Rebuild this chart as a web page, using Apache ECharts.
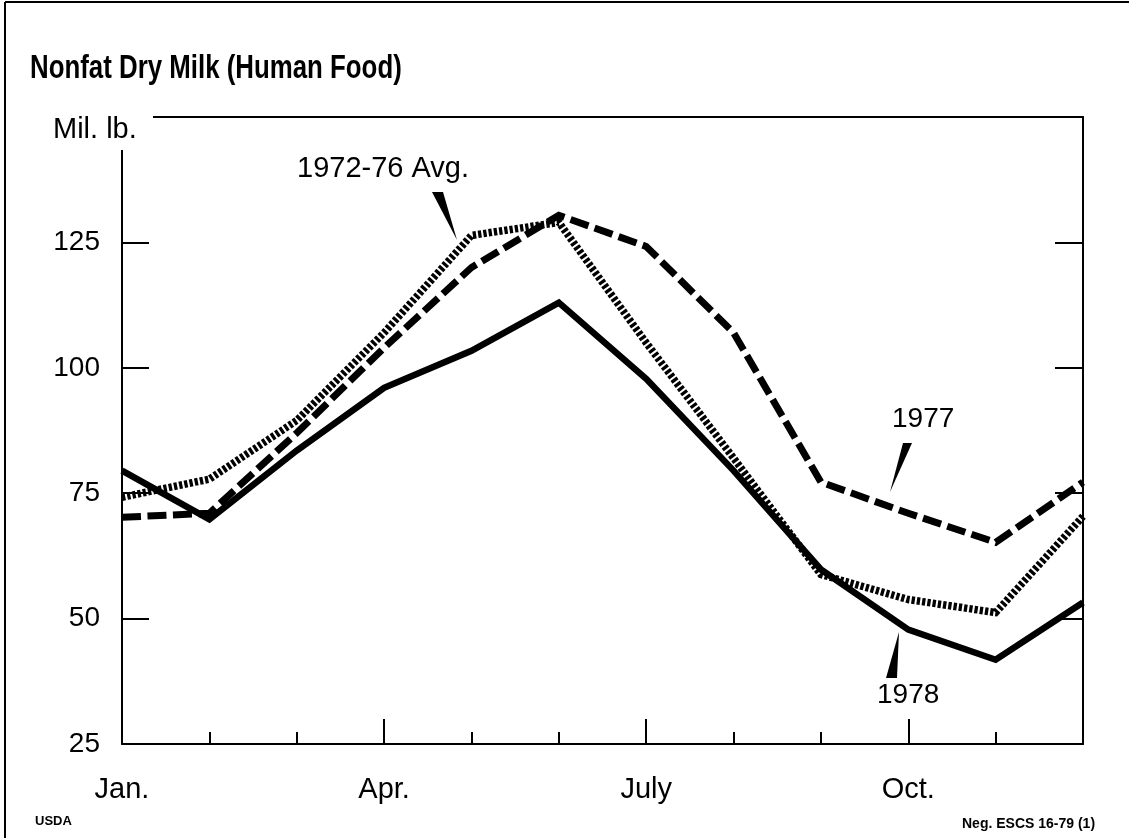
<!DOCTYPE html>
<html>
<head>
<meta charset="utf-8">
<script src="https://cdn.jsdelivr.net/npm/echarts@6/dist/echarts.min.js"></script>
<style>
  html, body { margin: 0; padding: 0; background: #fff; }
  #chart { width: 1129px; height: 838px; }
</style>
</head>
<body>
<div id="chart"></div>
<script>
// ---- data ----
const months = ['Jan', 'Feb', 'Mar', 'Apr', 'May', 'Jun', 'Jul', 'Aug', 'Sep', 'Oct', 'Nov', 'Dec'];
const xTickLabels = ['Jan.', '', '', 'Apr.', '', '', 'July', '', '', 'Oct.', '', ''];
const yTicks = [25, 50, 75, 100, 125, 150];
const y1978 = [79.5, 69.8, 83.5, 96, 103.4, 113, 97.8, 79.5, 59.8, 47.8, 41.8, 53.2];
const y1977 = [70.2, 71, 87, 104, 120, 130.4, 124.2, 107, 77.2, 71, 65.2, 77.2];
const yAvg  = [74.2, 77.8, 89.5, 107, 126.4, 129, 105, 82, 58.8, 53.8, 51.2, 70.4];

const FONT = "'Liberation Sans', Arial, Helvetica, sans-serif";

const chart = echarts.init(document.getElementById('chart'), null, { renderer: 'canvas' });

const option = {
  backgroundColor: '#ffffff',
  animation: false,
  grid: { left: 122, right: 46, top: 117, bottom: 94, containLabel: false },
  xAxis: [
    {
      type: 'category', data: months, boundaryGap: false, position: 'bottom',
      axisLine: { show: true, lineStyle: { color: '#000', width: 2 } },
      axisTick: { show: true, inside: true, length: 12, interval: 0, lineStyle: { color: '#000', width: 2 } },
      axisLabel: {
        show: true, interval: 0, margin: 31, color: '#000', fontFamily: FONT, fontSize: 29,
        formatter: (v, i) => xTickLabels[i]
      },
      splitLine: { show: false }
    },
    {
      type: 'category', data: months, boundaryGap: false, position: 'bottom',
      axisLine: { show: false },
      axisTick: { show: true, inside: true, length: 25, interval: (i) => i % 3 === 0, lineStyle: { color: '#000', width: 2 } },
      axisLabel: { show: false },
      splitLine: { show: false }
    },
    {
      type: 'category', data: months, boundaryGap: false, position: 'top',
      axisLine: { show: true, lineStyle: { color: '#000', width: 2 } },
      axisTick: { show: false },
      axisLabel: { show: false },
      splitLine: { show: false }
    }
  ],
  yAxis: [
    {
      type: 'value', min: yTicks[0], max: yTicks[yTicks.length - 1], interval: 25, position: 'left',
      axisLine: { show: true, lineStyle: { color: '#000', width: 2 } },
      axisTick: { show: true, inside: true, length: 27, lineStyle: { color: '#000', width: 2 } },
      axisLabel: {
        show: true, margin: 22, color: '#000', fontFamily: FONT, fontSize: 28,
        formatter: (v) => (v === 150 ? '' : String(v))
      },
      splitLine: { show: false }
    },
    {
      type: 'value', min: yTicks[0], max: yTicks[yTicks.length - 1], interval: 25, position: 'right',
      axisLine: { show: true, lineStyle: { color: '#000', width: 2 } },
      axisTick: { show: true, inside: true, length: 28, lineStyle: { color: '#000', width: 2 } },
      axisLabel: { show: false },
      splitLine: { show: false }
    }
  ],
  series: [
    {
      name: '1978', type: 'line', data: y1978, xAxisIndex: 0, yAxisIndex: 0,
      symbol: 'none', z: 3,
      lineStyle: { color: '#000', width: 6.5, type: 'solid', join: 'miter' }
    },
    {
      name: '1977', type: 'line', data: y1977, xAxisIndex: 0, yAxisIndex: 0,
      symbol: 'none', z: 4,
      lineStyle: { color: '#000', width: 7, type: [19, 6.5], cap: 'butt', join: 'miter' }
    },
    {
      name: '1972-76 Avg.', type: 'line', data: yAvg, xAxisIndex: 0, yAxisIndex: 0,
      symbol: 'none', z: 5,
      lineStyle: { color: '#000', width: 7.5, type: [3.3, 2], cap: 'butt', join: 'miter' }
    }
  ],
  graphic: [
    // title (condensed bold face)
    { type: 'text', z: 101, x: 30, y: 52, scaleX: 0.76,
      style: { text: 'Nonfat Dry Milk (Human Food)', fill: '#000', font: 'bold 34px ' + FONT } },
    // outer frame of the page (left and top edges)
    { type: 'line', z: 100, shape: { x1: 5, y1: 2, x2: 5, y2: 838 }, style: { stroke: '#000', lineWidth: 2 } },
    { type: 'line', z: 100, shape: { x1: 5, y1: 2, x2: 1129, y2: 2 }, style: { stroke: '#000', lineWidth: 2 } },
    // unit label, masks the frame corner
    { type: 'rect', z: 100, shape: { x: 40, y: 110, width: 113, height: 40 }, style: { fill: '#fff' } },
    { type: 'text', z: 101, left: 53, top: 115,
      style: { text: 'Mil. lb.', fill: '#000', font: '29px ' + FONT } },
    // annotations
    { type: 'text', z: 101, left: 297, top: 154,
      style: { text: '1972-76 Avg.', fill: '#000', font: '29px ' + FONT } },
    { type: 'polygon', z: 101, shape: { points: [[432, 192], [443, 192], [457, 240]] }, style: { fill: '#000' } },
    { type: 'text', z: 101, left: 892, top: 405,
      style: { text: '1977', fill: '#000', font: '28px ' + FONT } },
    { type: 'polygon', z: 101, shape: { points: [[903, 443], [912, 443], [890, 492]] }, style: { fill: '#000' } },
    { type: 'text', z: 101, left: 877, top: 681,
      style: { text: '1978', fill: '#000', font: '28px ' + FONT } },
    { type: 'polygon', z: 101, shape: { points: [[899, 632], [886, 678], [897, 678]] }, style: { fill: '#000' } },
    // footer
    { type: 'text', z: 101, left: 35, top: 815,
      style: { text: 'USDA', fill: '#000', font: 'bold 13px ' + FONT } },
    { type: 'text', z: 101, left: 962, top: 817,
      style: { text: 'Neg. ESCS 16-79 (1)', fill: '#000', font: 'bold 14px ' + FONT } }
  ]
};

chart.setOption(option);
</script>
</body>
</html>
